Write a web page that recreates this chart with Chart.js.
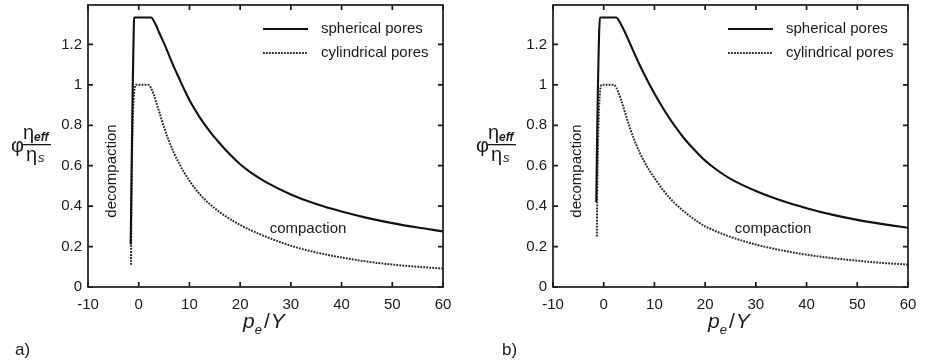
<!DOCTYPE html>
<html>
<head>
<meta charset="utf-8">
<script src="https://cdn.jsdelivr.net/npm/chart.js@4"></script>
<style>
  body { margin: 0; background: #fff; }
  .panel { position: absolute; top: 0; width: 465px; height: 364px; }
</style>
</head>
<body>
<div class="panel" style="left:0"><canvas id="chartA"></canvas></div>
<div class="panel" style="left:465px"><canvas id="chartB"></canvas></div>
<script>
// axis ticks
const xTicks = [-10, 0, 10, 20, 30, 40, 50, 60];
const yTicks = [0, 0.2, 0.4, 0.6, 0.8, 1, 1.2];

// panel a)
const sphericalA_x = [-1.58, -1.5, -1.4, -1.3, -1.2, -1.1, -1.0, -0.93, 0, 1, 2, 2.5, 3, 3.5, 4, 5, 6, 7, 8, 9, 10, 12, 14, 16, 18, 20, 22, 25, 30, 35, 40, 45, 50, 55, 60];
const sphericalA_y = [0.21, 0.38, 0.58, 0.78, 0.96, 1.11, 1.24, 1.333, 1.333, 1.333, 1.333, 1.333, 1.315, 1.29, 1.26, 1.205, 1.145, 1.085, 1.03, 0.976, 0.925, 0.84, 0.77, 0.71, 0.655, 0.607, 0.568, 0.52, 0.458, 0.41, 0.373, 0.342, 0.316, 0.294, 0.275];
const cylindricalA_x = [-1.52, -1.45, -1.35, -1.25, -1.15, -1.0, -0.85, -0.7, -0.5, 0, 1, 1.9, 2.4, 3, 3.5, 4, 5, 6, 7, 8, 9, 10, 12, 14, 16, 18, 20, 22, 25, 30, 35, 40, 45, 50, 55, 60];
const cylindricalA_y = [0.11, 0.35, 0.58, 0.74, 0.85, 0.93, 0.975, 0.995, 1.0, 1.0, 1.0, 1.0, 0.985, 0.95, 0.91, 0.87, 0.79, 0.72, 0.66, 0.61, 0.565, 0.525, 0.46, 0.41, 0.37, 0.336, 0.307, 0.282, 0.25, 0.204, 0.171, 0.146, 0.126, 0.111, 0.1, 0.091];

// panel b)
const sphericalB_x = [-1.47, -1.4, -1.3, -1.2, -1.1, -1.0, -0.9, -0.75, 0, 1, 2, 2.5, 3, 3.5, 4, 5, 6, 7, 8, 9, 10, 12, 14, 16, 18, 20, 22, 25, 30, 35, 40, 45, 50, 55, 60];
const sphericalB_y = [0.42, 0.56, 0.74, 0.9, 1.04, 1.16, 1.26, 1.333, 1.333, 1.333, 1.333, 1.333, 1.318, 1.295, 1.27, 1.215, 1.158, 1.103, 1.052, 1.003, 0.957, 0.872, 0.797, 0.731, 0.675, 0.625, 0.585, 0.535, 0.475, 0.428, 0.39, 0.358, 0.332, 0.311, 0.293];
const cylindricalB_x = [-1.35, -1.3, -1.2, -1.1, -1.0, -0.9, -0.75, -0.6, -0.4, 0, 1, 2.0, 2.5, 3, 3.5, 4, 5, 6, 7, 8, 9, 10, 12, 14, 16, 18, 20, 22, 25, 30, 35, 40, 45, 50, 55, 60];
const cylindricalB_y = [0.25, 0.42, 0.6, 0.73, 0.83, 0.9, 0.96, 0.99, 1.0, 1.0, 1.0, 1.0, 0.985, 0.955, 0.92, 0.88, 0.8, 0.73, 0.67, 0.62, 0.577, 0.54, 0.47, 0.415, 0.37, 0.332, 0.3, 0.277, 0.248, 0.21, 0.182, 0.16, 0.143, 0.13, 0.119, 0.111];

const FONT = "'Liberation Sans', Arial, sans-serif";
const INK = '#1a1a1a';

const toPoints = (xs, ys) => xs.map((x, i) => ({ x: x, y: ys[i] }));

// box, inward ticks, legend, notes and axis titles
const decorPlugin = {
  id: 'decor',
  afterDraw(chart, args, opts) {
    const { ctx, chartArea: a, scales: { x, y } } = chart;
    ctx.save();
    ctx.strokeStyle = INK;
    ctx.lineWidth = 1.7;
    ctx.strokeRect(a.left, a.top, a.width, a.height);

    ctx.beginPath();
    xTicks.forEach((v) => {
      const px = x.getPixelForValue(v);
      ctx.moveTo(px, a.bottom); ctx.lineTo(px, a.bottom - 5);
      ctx.moveTo(px, a.top); ctx.lineTo(px, a.top + 5);
    });
    yTicks.forEach((v) => {
      const py = y.getPixelForValue(v);
      ctx.moveTo(a.left, py); ctx.lineTo(a.left + 5, py);
      ctx.moveTo(a.right, py); ctx.lineTo(a.right - 5, py);
    });
    ctx.stroke();

    // legend
    ctx.fillStyle = INK;
    ctx.font = '15px ' + FONT;
    ctx.textBaseline = 'middle';
    chart.data.datasets.forEach((ds, i) => {
      const ly = 29 + i * 24;
      ctx.beginPath();
      ctx.strokeStyle = ds.borderColor;
      ctx.lineWidth = ds.borderWidth;
      ctx.setLineDash(ds.borderDash || []);
      ctx.moveTo(a.left + 175, ly);
      ctx.lineTo(a.left + 220, ly);
      ctx.stroke();
      ctx.setLineDash([]);
      ctx.textAlign = 'left';
      ctx.fillText(ds.label, a.left + 233, ly);
    });

    // notes
    ctx.textAlign = 'center';
    ctx.fillText('compaction', 308, 229);
    ctx.save();
    ctx.translate(112, 171);
    ctx.rotate(-Math.PI / 2);
    ctx.fillText('decompaction', 0, 0);
    ctx.restore();

    // x title: p_e / Y
    ctx.textBaseline = 'alphabetic';
    ctx.textAlign = 'left';
    let tx = 243;
    ctx.font = 'italic 21px ' + FONT;
    ctx.fillText('p', tx, 328);
    tx += ctx.measureText('p').width;
    ctx.font = 'italic 13px ' + FONT;
    ctx.fillText('e', tx, 334);
    tx += ctx.measureText('e').width + 2;
    ctx.font = '21px ' + FONT;
    ctx.fillText('/', tx, 328);
    tx += ctx.measureText('/').width + 1;
    ctx.font = 'italic 21px ' + FONT;
    ctx.fillText('Y', tx, 328);

    // y title: phi * eta_eff / eta_s
    ctx.font = '20px ' + FONT;
    ctx.fillText('\u03c6', 11, 152);
    ctx.fillText('\u03b7', 23, 139);
    ctx.font = 'italic bold 12px ' + FONT;
    ctx.fillText('eff', 34, 141);
    ctx.fillRect(23, 144, 28, 1.3);
    ctx.font = '20px ' + FONT;
    ctx.fillText('\u03b7', 26, 161);
    ctx.font = 'italic 13px ' + FONT;
    ctx.fillText('s', 38, 162);

    // panel letter
    ctx.font = '17px ' + FONT;
    ctx.fillText(opts.letter, opts.letterX, 355);
    ctx.restore();
  }
};

const buildChart = (elementId, sph, cyl, letter, letterX) => {
  new Chart(document.getElementById(elementId), {
    type: 'line',
    data: {
      datasets: [
        {
          label: 'spherical pores',
          data: sph,
          borderColor: '#111',
          borderWidth: 2.1,
          pointRadius: 0,
          cubicInterpolationMode: 'monotone',
        },
        {
          label: 'cylindrical pores',
          data: cyl,
          borderColor: '#2a2a2a',
          borderWidth: 2,
          borderDash: [1.8, 1.2],
          pointRadius: 0,
          cubicInterpolationMode: 'monotone',
        },
      ],
    },
    options: {
      responsive: false,
      animation: false,
      devicePixelRatio: 1,
      layout: { padding: { left: 0, top: 5, right: 22, bottom: 0 } },
      plugins: {
        legend: { display: false },
        tooltip: { enabled: false },
        decor: { letter: letter, letterX: letterX },
      },
      scales: {
        x: {
          type: 'linear',
          min: -10,
          max: 60,
          afterBuildTicks: (s) => { s.ticks = xTicks.map((v) => ({ value: v })); },
          afterFit: (s) => { s.height = 77; s.paddingLeft = 0; s.paddingRight = 0; },
          grid: { display: false, drawTicks: false },
          border: { display: false },
          ticks: {
            color: INK,
            padding: 9,
            maxRotation: 0,
            font: { family: FONT, size: 15 },
            callback: (v) => String(v),
          },
        },
        y: {
          type: 'linear',
          min: 0,
          max: 1.395,
          afterBuildTicks: (s) => { s.ticks = yTicks.map((v) => ({ value: v })); },
          afterFit: (s) => { s.width = 88; s.paddingTop = 0; s.paddingBottom = 0; },
          grid: { display: false, drawTicks: false },
          border: { display: false },
          ticks: {
            color: INK,
            padding: 6,
            font: { family: FONT, size: 15 },
            callback: (v) => String(+v.toFixed(1)),
          },
        },
      },
    },
    plugins: [decorPlugin],
  });
};

document.getElementById('chartA').width = 465;
document.getElementById('chartA').height = 364;
document.getElementById('chartB').width = 465;
document.getElementById('chartB').height = 364;

buildChart('chartA', toPoints(sphericalA_x, sphericalA_y), toPoints(cylindricalA_x, cylindricalA_y), 'a)', 15);
buildChart('chartB', toPoints(sphericalB_x, sphericalB_y), toPoints(cylindricalB_x, cylindricalB_y), 'b)', 37);
</script>
</body>
</html>
